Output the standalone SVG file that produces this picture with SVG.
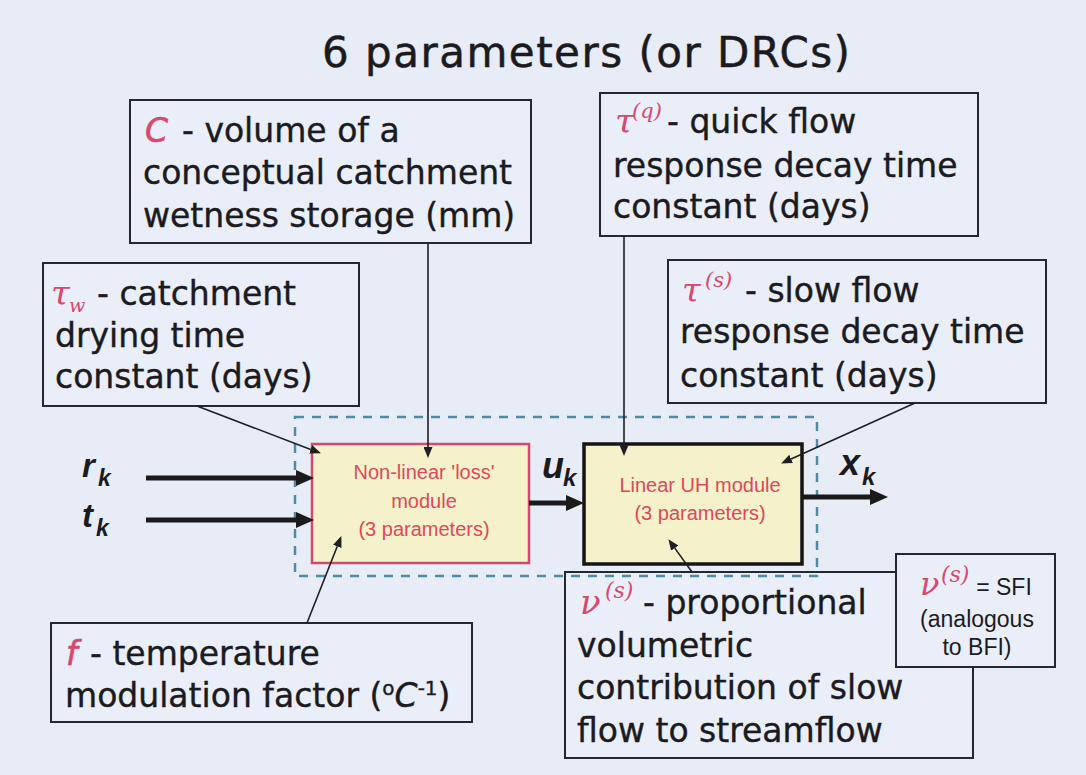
<svg xmlns="http://www.w3.org/2000/svg" width="1086" height="775" viewBox="0 0 1086 775">
  <defs>
    <style>
      .bg { fill: #e8ecf7; }
      .box { fill: #eaeef8; stroke: #26262e; stroke-width: 2; }
      .txt { font-family: "DejaVu Sans", "Open Sans", sans-serif; font-size: 33px; fill: #1b1b1f; stroke: #1b1b1f; stroke-width: 0.4; }
      .title { font-family: "DejaVu Sans", "Open Sans", sans-serif; font-size: 42px; fill: #1b1b1f; stroke: #1b1b1f; stroke-width: 0.5; }
      .sym { font-family: "DejaVu Serif", "Liberation Serif", serif; font-style: italic; fill: #d8486c; }
      .symsans { font-family: "DejaVu Sans", sans-serif; font-style: italic; fill: #d8486c; stroke: #d8486c; stroke-width: 0.6; }
      .mod { fill: #f5f2cb; }
      .modtxt { font-family: "Liberation Sans", Arial, sans-serif; font-size: 20px; fill: #e0475c; text-anchor: middle; }
      .var { font-family: "Liberation Sans", Arial, sans-serif; font-weight: bold; font-style: italic; fill: #1b1b1f; }
      .sfi { font-family: "Liberation Sans", Arial, sans-serif; font-size: 23px; fill: #1b1b1f; text-anchor: middle; }
      .thin { stroke: #1e1e24; stroke-width: 1.6; fill: none; }
      .thick { stroke: #1a1a1a; stroke-width: 5; fill: none; }
    </style>
    <marker id="headBig" markerUnits="userSpaceOnUse" markerWidth="18" markerHeight="16" refX="0" refY="8" orient="auto">
      <path d="M0,0 L18,8 L0,16 z" fill="#1a1a1a"/>
    </marker>
    <marker id="headSmall" markerUnits="userSpaceOnUse" markerWidth="11" markerHeight="9" refX="0" refY="4.5" orient="auto">
      <path d="M0,0 L11,4.5 L0,9 z" fill="#1e1e24"/>
    </marker>
  </defs>

  <rect class="bg" x="0" y="0" width="1086" height="775"/>

  <!-- heading -->
  <text class="title" x="322" y="67" textLength="528" lengthAdjust="spacing">6 parameters (or DRCs)</text>

  <!-- parameter boxes -->
  <g id="param-C">
    <rect class="box" x="130" y="100" width="401" height="143"/>
    <text class="symsans" x="145" y="142" font-size="33">C</text>
    <text class="txt" x="182" y="142">- volume of a</text>
    <text class="txt" x="143" y="184">conceptual catchment</text>
    <text class="txt" x="143" y="227">wetness storage (mm)</text>
  </g>

  <g id="param-tau-q">
    <rect class="box" x="600" y="93" width="378" height="143"/>
    <text class="sym" x="615" y="133" font-size="34">τ</text>
    <text class="sym" x="632" y="118" font-size="21">(q)</text>
    <text class="txt" x="667" y="133">- quick flow</text>
    <text class="txt" x="613" y="177">response decay time</text>
    <text class="txt" x="613" y="218">constant (days)</text>
  </g>

  <g id="param-tau-w">
    <rect class="box" x="43" y="263" width="316" height="143"/>
    <text class="sym" x="51" y="305" font-size="34">τ</text>
    <text class="sym" x="69" y="312" font-size="19">w</text>
    <text class="txt" x="97" y="305">- catchment</text>
    <text class="txt" x="55" y="347">drying time</text>
    <text class="txt" x="55" y="388">constant (days)</text>
  </g>

  <g id="param-tau-s">
    <rect class="box" x="668" y="260" width="378" height="143"/>
    <text class="sym" x="682" y="302" font-size="34">τ</text>
    <text class="sym" x="705" y="287" font-size="21">(s)</text>
    <text class="txt" x="745" y="302">- slow flow</text>
    <text class="txt" x="680" y="343">response decay time</text>
    <text class="txt" x="680" y="387">constant (days)</text>
  </g>

  <g id="param-f">
    <rect class="box" x="51" y="623" width="421" height="99"/>
    <text class="symsans" x="66" y="665" font-size="33">f</text>
    <text class="txt" x="90" y="665">- temperature</text>
    <text class="txt" x="65" y="707">modulation factor (<tspan font-size="20" dy="-12">o</tspan><tspan font-style="italic" dy="12">C</tspan><tspan font-size="20" dy="-12">-1</tspan><tspan dy="12">)</tspan></text>
  </g>

  <g id="param-nu">
    <rect class="box" x="565" y="572" width="408" height="186"/>
    <text class="sym" x="580" y="614" font-size="34">ν</text>
    <text class="sym" x="605" y="598" font-size="22">(s)</text>
    <text class="txt" x="643" y="614">- proportional</text>
    <text class="txt" x="577" y="657">volumetric</text>
    <text class="txt" x="577" y="699">contribution of slow</text>
    <text class="txt" x="577" y="742">flow to streamflow</text>
  </g>

  <g id="note-sfi">
    <rect class="box" x="896" y="554" width="159" height="113"/>
    <text class="sym" x="920" y="595" font-size="32">ν</text>
    <text class="sym" x="941" y="582" font-size="22">(s)</text>
    <text class="sfi" x="1004" y="595">= SFI</text>
    <text class="sfi" x="977" y="627">(analogous</text>
    <text class="sfi" x="977" y="655">to BFI)</text>
  </g>

  <!-- model structure -->
  <g id="model-frame">
    <rect x="295" y="417" width="522" height="159" fill="none" stroke="#4f8aa6" stroke-width="2.5" stroke-dasharray="9 8"/>
  </g>

  <g id="module-nonlinear">
    <rect class="mod" x="312" y="444" width="217" height="119" stroke="#d14a6b" stroke-width="2.5"/>
    <text class="modtxt" x="424" y="479">Non-linear 'loss'</text>
    <text class="modtxt" x="424" y="508">module</text>
    <text class="modtxt" x="424" y="536">(3 parameters)</text>
  </g>

  <g id="module-linear">
    <rect class="mod" x="584" y="444" width="218" height="120" stroke="#141414" stroke-width="3.5"/>
    <text class="modtxt" x="700" y="492">Linear UH module</text>
    <text class="modtxt" x="700" y="520">(3 parameters)</text>
  </g>

  <!-- signal labels -->
  <g id="labels">
    <text class="var" x="82" y="477" font-size="33">r</text>
    <text class="var" x="98" y="486" font-size="23">k</text>
    <text class="var" x="82" y="527" font-size="33">t</text>
    <text class="var" x="96" y="536" font-size="23">k</text>
    <text class="var" x="542" y="478" font-size="36">u</text>
    <text class="var" x="563" y="486" font-size="24">k</text>
    <text class="var" x="840" y="475" font-size="36">x</text>
    <text class="var" x="862" y="485" font-size="24">k</text>
  </g>

  <!-- connectors -->
  <g id="connectors">
    <line class="thick" x1="146" y1="478" x2="296" y2="478" marker-end="url(#headBig)"/>
    <line class="thick" x1="146" y1="520" x2="296" y2="520" marker-end="url(#headBig)"/>
    <line class="thick" x1="529" y1="503" x2="566" y2="503" marker-end="url(#headBig)"/>
    <line class="thick" x1="802" y1="497" x2="870" y2="497" marker-end="url(#headBig)"/>

    <line class="thin" x1="428" y1="243" x2="428" y2="447" marker-end="url(#headSmall)"/>
    <line class="thin" x1="624" y1="236" x2="624" y2="445" marker-end="url(#headSmall)"/>
    <line class="thin" x1="197" y1="406" x2="310.7" y2="449.4" marker-end="url(#headSmall)"/>
    <line class="thin" x1="915" y1="403" x2="791.1" y2="458.9" marker-end="url(#headSmall)"/>
    <line class="thin" x1="307" y1="623" x2="337.3" y2="546.3" marker-end="url(#headSmall)"/>
    <line class="thin" x1="692" y1="572" x2="674.8" y2="548.1" marker-end="url(#headSmall)"/>
  </g>
</svg>
